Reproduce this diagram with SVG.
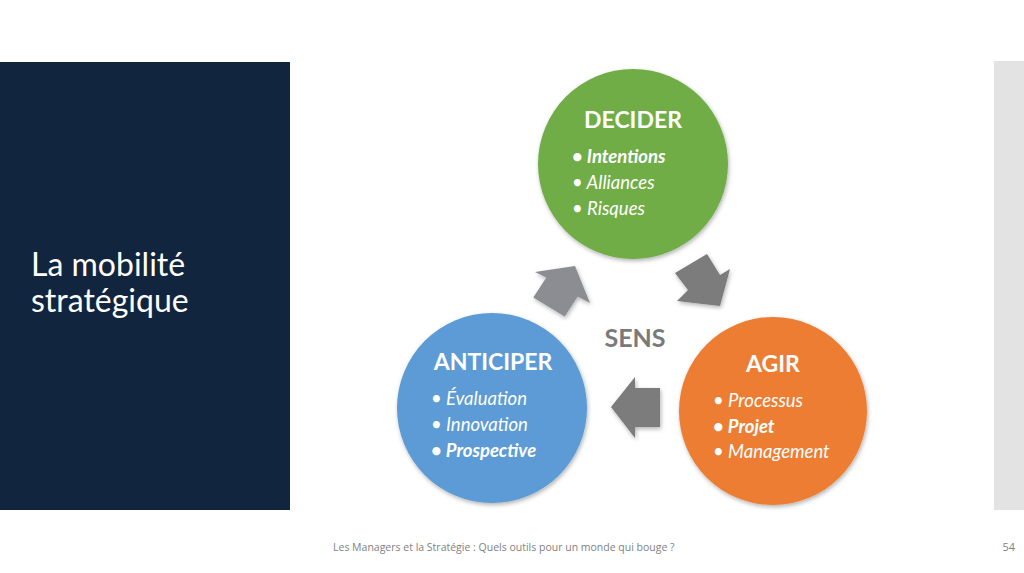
<svg xmlns="http://www.w3.org/2000/svg" width="1024" height="573" viewBox="0 0 1024 573">
<defs>
<filter id="sh" x="-20%" y="-20%" width="140%" height="140%">
<feDropShadow dx="1" dy="2" stdDeviation="2" flood-color="#000" flood-opacity="0.3"/>
</filter>
</defs>
<style>
.t{font-family:Lato,"Open Sans",sans-serif;fill:#fff}
.h{font-size:23px;text-anchor:middle;font-weight:bold}
.b{font-size:18.5px;font-style:italic}
.bb{font-weight:bold}
.arr{filter:url(#sh)}
</style>
<rect x="0" y="0" width="1024" height="573" fill="#fff"/>
<rect x="0" y="62" width="290" height="448" fill="#12253f"/>
<rect x="994" y="61" width="30" height="449" fill="#e3e3e3"/>
<text class="t" x="31" y="276" font-size="32">La mobilité</text>
<text class="t" x="31" y="312" font-size="32">stratégique</text>

<g id="connectors">
<polygon class="arr" fill="#8b8d92" points="575,266 590,303 577.7,296.5 564.7,316.5 533.3,297.5 546.3,277.5 535,272"/>
<polygon class="arr" fill="#7b7b7b" points="720,306 677,301 688,290 675,273 707,254 720,275 730,269"/>
<polygon class="arr" fill="#7b7b7b" points="611,407 635,377 635,388 660,388 660,427 635,427 635,438"/>
</g>

<g id="decider">
<circle cx="633" cy="164" r="95" fill="#70ad47" filter="url(#sh)"/>
<text class="t h" x="633" y="128">DECIDER</text>
<text class="t b bb" x="572" y="163">• Intentions</text>
<text class="t b" x="572" y="189">• Alliances</text>
<text class="t b" x="572" y="215">• Risques</text>
</g>

<g id="anticiper">
<circle cx="492" cy="408" r="95" fill="#5b9bd5" filter="url(#sh)"/>
<text class="t h" x="493" y="370">ANTICIPER</text>
<text class="t b" x="431" y="405">• Évaluation</text>
<text class="t b" x="431" y="431">• Innovation</text>
<text class="t b bb" x="431" y="457">• Prospective</text>
</g>

<g id="agir">
<circle cx="773" cy="411" r="94" fill="#ed7d31" filter="url(#sh)"/>
<text class="t h" x="773" y="372">AGIR</text>
<text class="t b" x="713" y="407">• Processus</text>
<text class="t b bb" x="713" y="433">• Projet</text>
<text class="t b" x="713" y="458">• Management</text>
</g>

<g id="sens">
<text x="635" y="347" font-family="Lato,'Open Sans',sans-serif" font-size="25" font-weight="bold" fill="#7a7a7a" text-anchor="middle">SENS</text>
</g>

<text x="333" y="551" font-family="'Open Sans',Lato,sans-serif" font-size="10.5" fill="#7f7f7f">Les Managers et la Stratégie : Quels outils pour un monde qui bouge ?</text>
<text x="1015" y="551" font-family="'Open Sans',Lato,sans-serif" font-size="11" fill="#7f7f7f" text-anchor="end">54</text>
</svg>
